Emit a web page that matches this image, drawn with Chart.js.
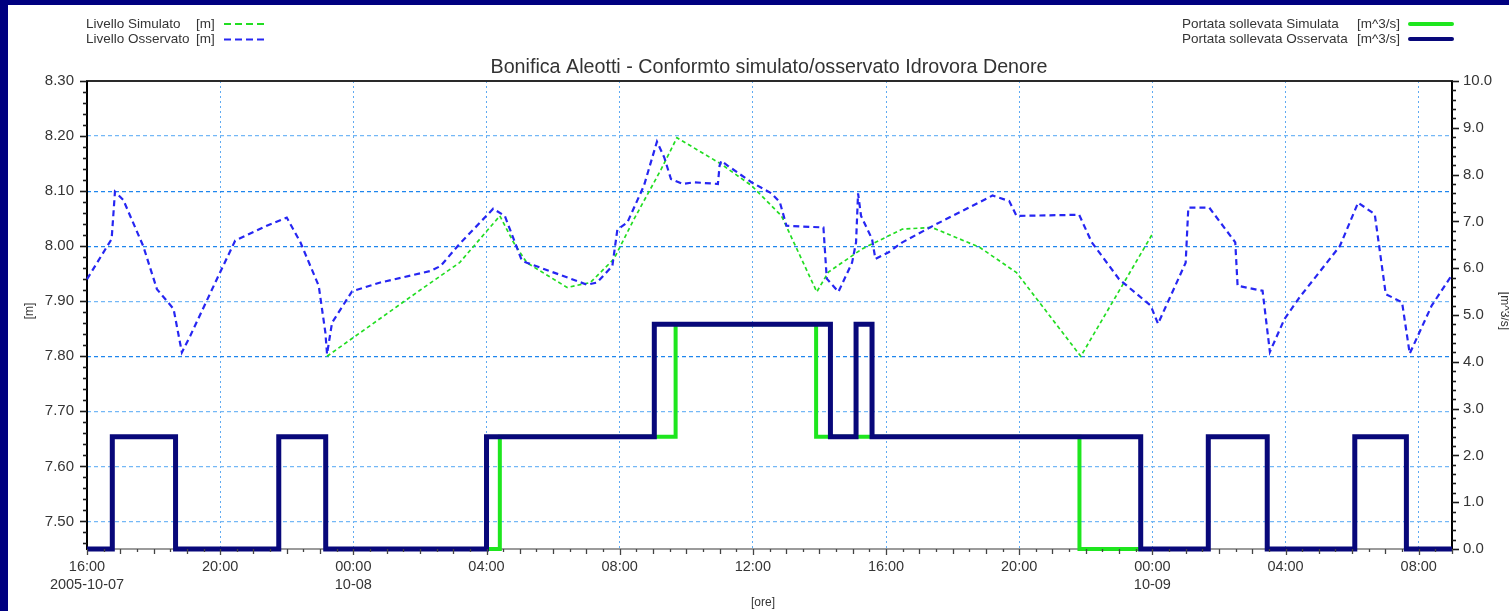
<!DOCTYPE html>
<html>
<head>
<meta charset="utf-8">
<title>Bonifica Aleotti - Idrovora Denore</title>
<script src="https://cdn.jsdelivr.net/npm/chart.js@4.4.1/dist/chart.umd.min.js"></script>
<style>
  html, body { margin: 0; padding: 0; width: 1509px; height: 611px; overflow: hidden; background: #000080; }
  #panel { position: absolute; left: 8px; top: 5px; width: 1501px; height: 606px; background: #ffffff; }
  #wrap { position: absolute; left: 0; top: 0; width: 1509px; height: 611px; }
</style>
</head>
<body>
<div id="panel"></div>
<div id="wrap"><canvas id="c" width="1509" height="611"></canvas></div>
<script>
// Tempo espresso in ore a partire dalle 16:00 del 2005-10-07

// Livello osservato [m]
const tLivelloOss = [0, 0.74, 0.84, 1.09, 1.69, 2.1, 2.6, 2.85, 3.1, 3.9, 4.45, 5.4, 6.0, 6.41, 6.96, 7.16, 7.21, 7.36, 7.96, 8.81, 10.32, 10.62, 11.19, 12.2, 12.55, 13.06, 13.21, 15.02, 15.32, 15.78, 15.93, 16.23, 16.73, 17.12, 17.34, 17.54, 17.89, 18.24, 18.95, 19.0, 19.05, 19.25, 19.96, 20.56, 20.81, 21.01, 22.12, 22.22, 22.57, 22.98, 23.1, 23.16, 23.25, 23.58, 23.68, 24.08, 24.49, 25.38, 27.2, 27.7, 27.92, 29.8, 30.18, 31.0, 31.95, 32.17, 33.0, 33.08, 33.71, 34.49, 34.56, 35.31, 35.53, 35.97, 36.42, 37.63, 38.18, 38.68, 39.01, 39.5, 39.73, 40.39, 41.0];
const livelloOsservato = [7.94, 8.013, 8.099, 8.084, 8.0, 7.922, 7.886, 7.807, 7.837, 7.94, 8.01, 8.037, 8.052, 8.007, 7.928, 7.843, 7.804, 7.861, 7.918, 7.934, 7.955, 7.964, 8.004, 8.068, 8.055, 7.974, 7.97, 7.93, 7.934, 7.964, 8.03, 8.043, 8.11, 8.19, 8.161, 8.122, 8.113, 8.116, 8.113, 8.146, 8.155, 8.146, 8.116, 8.096, 8.08, 8.037, 8.034, 7.941, 7.917, 7.97, 8.007, 8.096, 8.055, 8.013, 7.977, 7.989, 8.007, 8.036, 8.092, 8.082, 8.055, 8.057, 8.007, 7.94, 7.892, 7.859, 7.97, 8.07, 8.07, 8.007, 7.928, 7.919, 7.808, 7.868, 7.907, 8.0, 8.079, 8.058, 7.913, 7.898, 7.805, 7.892, 7.948];

// Livello simulato [m]
const tLivelloSim = [7.21, 8.0, 10.0, 11.19, 12.4, 12.81, 13.21, 14.42, 15.12, 15.83, 16.43, 17.24, 17.72, 19.05, 19.96, 20.86, 21.92, 22.27, 23.28, 24.49, 25.38, 26.81, 27.92, 29.85, 32.0];
const livelloSimulato = [7.80, 7.834, 7.92, 7.97, 8.055, 8.007, 7.97, 7.925, 7.934, 7.977, 8.049, 8.139, 8.197, 8.149, 8.11, 8.055, 7.917, 7.953, 7.995, 8.031, 8.034, 7.998, 7.952, 7.80, 8.022];

// Portata sollevata osservata [m^3/s] (istanti di cambio e nuovo valore)
const tPortataOss = [0, 0.76, 2.66, 5.76, 7.17, 12.0, 17.04, 22.33, 23.1, 23.58, 31.65, 33.68, 35.45, 38.08, 39.63, 41.0];
const portataOsservata = [0, 2.4, 0, 2.4, 0, 2.4, 4.8, 2.4, 4.8, 2.4, 0, 2.4, 0, 2.4, 0, 0];

// Portata sollevata simulata [m^3/s]
const tPortataSim = [7.2, 12.4, 17.68, 21.9, 29.81, 32.0];
const portataSimulata = [0, 2.4, 4.8, 2.4, 0, 0];

// Etichette degli assi
const xTickHours = [0, 4, 8, 12, 16, 20, 24, 28, 32, 36, 40];
const xTickLabels = [["16:00", "2005-10-07"], "20:00", ["00:00", "10-08"], "04:00", "08:00", "12:00", "16:00", "20:00", ["00:00", "10-09"], "04:00", "08:00"];
const yLevelTicks = [7.5, 7.6, 7.7, 7.8, 7.9, 8.0, 8.1, 8.2, 8.3];
const yFlowTicks = [0, 1, 2, 3, 4, 5, 6, 7, 8, 9, 10];

const FONT = '"Liberation Sans", Arial, sans-serif';
const TEXT = '#353535';

const C_LIV_OSS = '#2626f2';
const C_LIV_SIM = '#22dd22';
const C_POR_OSS = '#08087a';
const C_POR_SIM = '#1ee61e';

function pairs(xs, ys) {
  return xs.map((x, i) => ({ x: x, y: ys[i] }));
}

function line(ctx, x1, y1, x2, y2) {
  ctx.beginPath();
  ctx.moveTo(x1, y1);
  ctx.lineTo(x2, y2);
  ctx.stroke();
}

// Cornice, tacche degli assi, titoli e legende
const decorazioni = {
  id: 'decorazioni',
  beforeDatasetsDraw(chart) {
    const { ctx, chartArea: a } = chart;
    ctx.save();
    ctx.setLineDash([]);
    ctx.strokeStyle = '#7a7a7a'; ctx.lineWidth = 1.5;
    line(ctx, a.left, a.bottom, a.right, a.bottom);
    ctx.strokeStyle = '#2a2a2a'; ctx.lineWidth = 2;
    line(ctx, a.left - 1, a.top, a.right + 1, a.top);
    ctx.strokeStyle = '#000'; ctx.lineWidth = 2;
    line(ctx, a.left, a.top, a.left, a.bottom + 1);
    line(ctx, a.right, a.top, a.right, a.bottom + 1);
    ctx.restore();
  },
  afterDatasetsDraw(chart) {
    const { ctx, chartArea: a, scales } = chart;
    const yl = scales.yLevel, yr = scales.yFlow, x = scales.x;
    ctx.save();
    ctx.setLineDash([]);
    ctx.strokeStyle = '#1a1a1a';
    ctx.lineWidth = 1.6;

    // tacche asse livelli (passo 0.02 m)
    for (let k = 373; k <= 415; k++) {
      const py = Math.round(yl.getPixelForValue(k * 0.02)) + 0.5;
      const len = (k % 5 === 0) ? 7 : 4;
      line(ctx, a.left - len, py, a.left, py);
    }
    // tacche asse portate (passo 0.2 m^3/s)
    for (let k = 0; k <= 50; k++) {
      const py = Math.round(yr.getPixelForValue(k * 0.2)) + 0.5;
      const len = (k % 5 === 0) ? 7 : 4;
      line(ctx, a.right, py, a.right + len, py);
    }
    // tacche asse tempi (passo 30 minuti)
    ctx.strokeStyle = '#444';
    ctx.lineWidth = 1.3;
    for (let k = 0; k <= 82; k++) {
      const px = Math.round(x.getPixelForValue(k * 0.5)) + 0.5;
      const len = (k % 8 === 0) ? 6 : (k % 2 === 0 ? 5 : 3);
      line(ctx, px, a.bottom, px, a.bottom + len);
    }

    // titolo
    ctx.fillStyle = '#333';
    ctx.textAlign = 'center';
    ctx.textBaseline = 'middle';
    ctx.font = '19.7px ' + FONT;
    ctx.fillText('Bonifica Aleotti - Conformto simulato/osservato Idrovora Denore', 769, 68);

    // titoli degli assi
    ctx.fillStyle = TEXT;
    ctx.font = '12px ' + FONT;
    ctx.fillText('[ore]', 763, 603);
    ctx.save();
    ctx.translate(30, 311);
    ctx.rotate(-Math.PI / 2);
    ctx.fillText('[m]', 0, 0);
    ctx.restore();
    ctx.save();
    ctx.translate(1504, 311);
    ctx.rotate(Math.PI / 2);
    ctx.fillText('[m^3/s]', 0, 0);
    ctx.restore();

    // legenda livelli
    ctx.textAlign = 'left';
    ctx.font = '13.5px ' + FONT;
    ctx.fillStyle = TEXT;
    ctx.fillText('Livello Simulato', 86, 24);
    ctx.fillText('[m]', 196, 24);
    ctx.fillText('Livello Osservato', 86, 39);
    ctx.fillText('[m]', 196, 39);
    ctx.lineCap = 'butt';
    ctx.strokeStyle = C_LIV_SIM; ctx.lineWidth = 2; ctx.setLineDash([7, 4]);
    line(ctx, 224, 24, 268, 24);
    ctx.strokeStyle = C_LIV_OSS; ctx.lineWidth = 2.2; ctx.setLineDash([7, 4]);
    line(ctx, 224, 39.5, 268, 39.5);
    ctx.setLineDash([]);

    // legenda portate
    ctx.fillStyle = TEXT;
    ctx.fillText('Portata sollevata Simulata', 1182, 24);
    ctx.fillText('[m^3/s]', 1357, 24);
    ctx.fillText('Portata sollevata Osservata', 1182, 39);
    ctx.fillText('[m^3/s]', 1357, 39);
    ctx.lineCap = 'round';
    ctx.strokeStyle = C_POR_SIM; ctx.lineWidth = 4;
    line(ctx, 1410, 24, 1452, 24);
    ctx.strokeStyle = C_POR_OSS; ctx.lineWidth = 4;
    line(ctx, 1410, 39, 1452, 39);
    ctx.restore();
  }
};

new Chart(document.getElementById('c'), {
  type: 'line',
  data: {
    datasets: [
      {
        label: 'Livello Osservato [m]',
        data: pairs(tLivelloOss, livelloOsservato),
        yAxisID: 'yLevel',
        borderColor: C_LIV_OSS,
        borderWidth: 2.2,
        borderDash: [6, 4],
        pointRadius: 0,
        tension: 0,
        clip: 6
      },
      {
        label: 'Livello Simulato [m]',
        data: pairs(tLivelloSim, livelloSimulato),
        yAxisID: 'yLevel',
        borderColor: C_LIV_SIM,
        borderWidth: 1.7,
        borderDash: [4, 3],
        pointRadius: 0,
        tension: 0,
        clip: 6
      },
      {
        label: 'Portata sollevata Osservata [m^3/s]',
        data: pairs(tPortataOss, portataOsservata),
        yAxisID: 'yFlow',
        stepped: 'before',
        borderColor: C_POR_OSS,
        borderWidth: 5,
        pointRadius: 0,
        clip: 8
      },
      {
        label: 'Portata sollevata Simulata [m^3/s]',
        data: pairs(tPortataSim, portataSimulata),
        yAxisID: 'yFlow',
        stepped: 'before',
        borderColor: C_POR_SIM,
        borderWidth: 4,
        pointRadius: 0,
        clip: 8
      }
    ]
  },
  options: {
    responsive: false,
    animation: false,
    events: [],
    layout: { padding: { top: 81, left: 0, right: 0, bottom: 0 } },
    plugins: {
      legend: { display: false },
      title: { display: false },
      tooltip: { enabled: false }
    },
    scales: {
      x: {
        type: 'linear',
        min: 0,
        max: 41,
        afterBuildTicks: s => { s.ticks = xTickHours.map(v => ({ value: v })); },
        afterFit: s => { s.height = 62; },
        grid: { color: '#5eaaf2', lineWidth: 1, drawTicks: false },
        border: { display: false, dash: [2, 3] },
        ticks: {
          autoSkip: false,
          maxRotation: 0,
          padding: 9,
          color: TEXT,
          font: { family: FONT, size: 14.5, lineHeight: 1.22 },
          callback: (v, i) => xTickLabels[i]
        }
      },
      yLevel: {
        type: 'linear',
        position: 'left',
        min: 7.45,
        max: 8.30,
        afterBuildTicks: s => { s.ticks = yLevelTicks.map(v => ({ value: v })); },
        afterFit: s => { s.width = 87; },
        grid: {
          color: c => {
            const v = Math.round(c.tick.value * 100);
            return (v === 810 || v === 800 || v === 780) ? '#1f86ee' : '#74b8f6';
          },
          lineWidth: 1.2,
          drawTicks: false
        },
        border: { display: false, dash: [4, 3] },
        ticks: {
          padding: 13,
          color: TEXT,
          font: { family: FONT, size: 15 },
          callback: v => v.toFixed(2)
        }
      },
      yFlow: {
        type: 'linear',
        position: 'right',
        min: 0,
        max: 10,
        afterBuildTicks: s => { s.ticks = yFlowTicks.map(v => ({ value: v })); },
        afterFit: s => { s.width = 57; },
        grid: { display: false, drawTicks: false },
        border: { display: false },
        ticks: {
          padding: 11,
          color: TEXT,
          font: { family: FONT, size: 15 },
          callback: v => v.toFixed(1)
        }
      }
    }
  },
  plugins: [decorazioni]
});
</script>
</body>
</html>
